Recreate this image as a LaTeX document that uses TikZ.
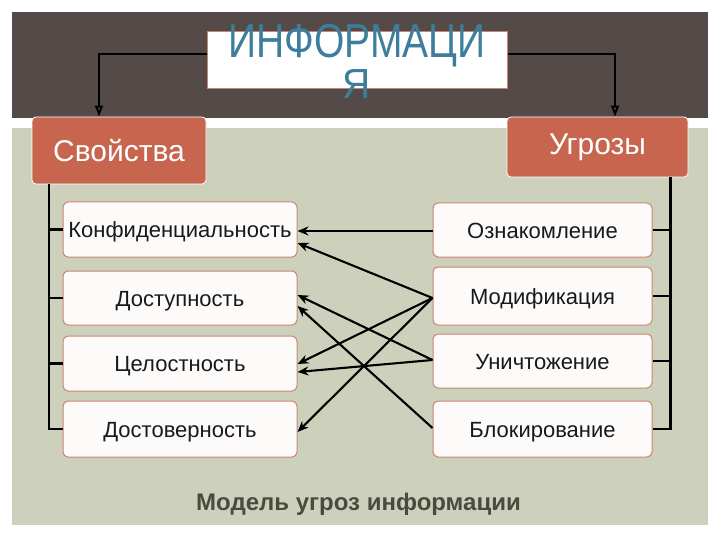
\documentclass[tikz,border=0pt]{standalone}
\usepackage{fontspec}
\setmainfont{Liberation Sans}
\usetikzlibrary{arrows.meta,calc}
\definecolor{bandc}{HTML}{544A48}
\definecolor{panelc}{HTML}{CDD1BC}
\definecolor{orangec}{HTML}{C7654F}
\definecolor{borderc}{HTML}{C98470}
\definecolor{boxfillc}{HTML}{FDFBFA}
\definecolor{titlec}{HTML}{3D7E9C}
\definecolor{captionc}{HTML}{4A4A3E}
\tikzset{
  headbox/.style={draw=white, line width=0.8pt, fill=orangec, rounded corners=4pt,
    text=white, font=\fontsize{30}{32}\selectfont, inner sep=0pt},
  itembox/.style={draw=borderc, line width=1pt, fill=boxfillc, rounded corners=5pt,
    text=black!90, font=\fontsize{22}{24}\selectfont, inner sep=0pt,
    text height=16pt, text depth=0pt},
  treeline/.style={line width=2.2pt, black},
  linkarrow/.style={line width=2.1pt, black, -{Stealth[length=11pt,width=9pt]}},
  toparrow/.style={line width=2pt, black, -{Triangle[open,length=11pt,width=8pt]}}
}
\begin{document}
\begin{tikzpicture}[x=1pt,y=-1pt]
\useasboundingbox (0,0) rectangle (720,540);
\fill[white] (0,0) rectangle (720,540);
\fill[bandc] (12,12) rectangle (708,118);
\fill[panelc] (12,128) rectangle (708,525);

% title
\node[draw=borderc, line width=1pt, fill=white, minimum width=300pt, minimum height=57pt, inner sep=0pt] (title) at (357.5,60.5) {};
\node[anchor=base, text=titlec, font=\fontsize{39}{41}\selectfont, inner sep=0pt] (t1) at (357,58) {\scalebox{1}[1.22]{ИНФОРМАЦИ}};
\node[anchor=base, text=titlec, font=\fontsize{39}{41}\selectfont, inner sep=0pt] (t2) at (357,99) {\scalebox{1}[1.08]{Я}};

% head boxes
\node[headbox, minimum width=174pt, minimum height=67pt] (props) at (119,150.5) {Свойства};
\node[headbox, minimum width=181pt, minimum height=60pt] (threats) at (597.5,147) {Угрозы};

\draw[toparrow] ([yshift=6.5pt]title.west) -| ([xshift=-20pt]props.north);
\draw[toparrow] ([yshift=6.5pt]title.east) -| ([xshift=17.5pt]threats.north);

% left items
\node[itembox, minimum width=234pt, minimum height=55pt] (l1) at (180,229.5) {Конфиденциальность};
\node[itembox, minimum width=234pt, minimum height=54pt] (l2) at (180,298) {Доступность};
\node[itembox, minimum width=234pt, minimum height=55pt] (l3) at (180,363.5) {Целостность};
\node[itembox, minimum width=234pt, minimum height=56pt] (l4) at (180,429) {Достоверность};

% right items
\node[itembox, minimum width=219pt, minimum height=54pt] (r1) at (542.5,230) {Ознакомление};
\node[itembox, minimum width=219pt, minimum height=58pt] (r2) at (542.5,296) {Модификация};
\node[itembox, minimum width=219pt, minimum height=54pt] (r3) at (542.5,361) {Уничтожение};
\node[itembox, minimum width=219pt, minimum height=56pt] (r4) at (542.5,429) {Блокирование};

% trees
\coordinate (lbus) at ([xshift=-70pt]props.south);
\draw[treeline] (lbus) |- (l4.west);
\foreach \i in {1,2,3} \draw[treeline] (l\i.west) -- (l\i.west -| lbus);
\coordinate (rbus) at ([xshift=73pt]threats.south);
\draw[treeline] (rbus) |- (r4.east);
\foreach \i in {1,2,3} \draw[treeline] (r\i.east) -- (r\i.east -| rbus);

% links
\draw[linkarrow] ([yshift=-1pt]r1.west) -- ([yshift=-1.5pt]l1.east);
\draw[linkarrow] ([yshift=-2pt]r2.west) -- ([yshift=-13.5pt]l1.east);
\draw[linkarrow] ([yshift=-2pt]r2.west) -- ([yshift=-0.5pt]l3.east);
\draw[linkarrow] ([yshift=-2pt]r2.west) -- ([yshift=-3pt]l4.east);
\draw[linkarrow] ([yshift=1pt]r3.west) -- ([yshift=3pt]l2.east);
\draw[linkarrow] ([yshift=1pt]r3.west) -- ([yshift=-8.5pt]l3.east);
\draw[linkarrow] ([yshift=1pt]r4.west) -- ([yshift=-8pt]l2.east);

% caption
\node[anchor=base, text=captionc, font=\bfseries\fontsize{24}{26}\selectfont, inner sep=0pt] (caption) at (358.5,510) {Модель угроз информации};
\end{tikzpicture}
\end{document}
